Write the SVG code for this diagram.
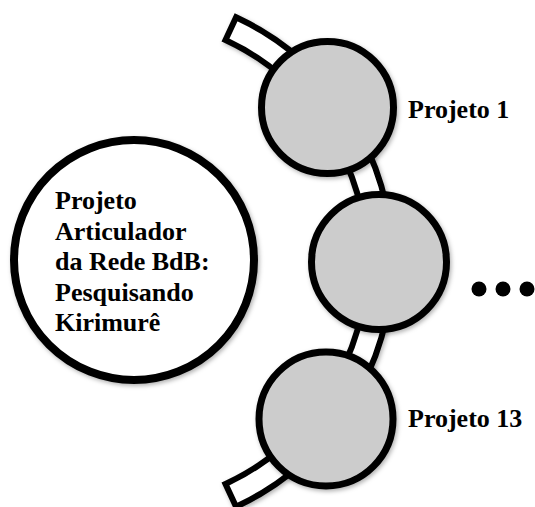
<svg xmlns="http://www.w3.org/2000/svg" width="535" height="507" viewBox="0 0 535 507">
<defs>
<filter id="sh" x="-20%" y="-20%" width="140%" height="140%">
<feDropShadow dx="1.5" dy="2" stdDeviation="2" flood-color="#000" flood-opacity="0.3"/>
</filter>
<style>
.band{fill:#fff;stroke:#000;stroke-width:6;stroke-linejoin:miter}
.proj{fill:#cccccc;stroke:#000;stroke-width:7}
.main{fill:#fff;stroke:#000;stroke-width:8}
.t{font-family:"Liberation Serif","Times New Roman",serif;font-weight:bold;font-size:26px;fill:#000}
</style>
</defs>
<g id="connectors">
<path class="band" filter="url(#sh)" d="M 236.1,17.3 A 270 270 0 0 1 236.1,506.7 L 225.5,484.0 A 245 245 0 0 0 225.5,40.0 Z"/>
</g>
<g id="main-node">
<circle class="main" filter="url(#sh)" cx="134" cy="260" r="120"/>
<text class="t" x="55" y="209">Projeto</text>
<text class="t" x="55" y="239.5">Articulador</text>
<text class="t" x="55" y="270">da Rede BdB:</text>
<text class="t" x="55" y="300.5">Pesquisando</text>
<text class="t" x="55" y="331">Kirimurê</text>
</g>
<g id="projeto1">
<circle class="proj" filter="url(#sh)" cx="327.5" cy="107.5" r="66"/>
<text class="t" x="408" y="118">Projeto 1</text>
</g>
<g id="projeto-mid">
<circle class="proj" filter="url(#sh)" cx="379" cy="262" r="67.5"/>
</g>
<g id="ellipsis">
<circle cx="479" cy="289" r="7.5"/>
<circle cx="503" cy="289" r="7.5"/>
<circle cx="527" cy="289" r="7.5"/>
</g>
<g id="projeto13">
<circle class="proj" filter="url(#sh)" cx="326" cy="419" r="67"/>
<text class="t" x="408" y="427">Projeto 13</text>
</g>
</svg>
